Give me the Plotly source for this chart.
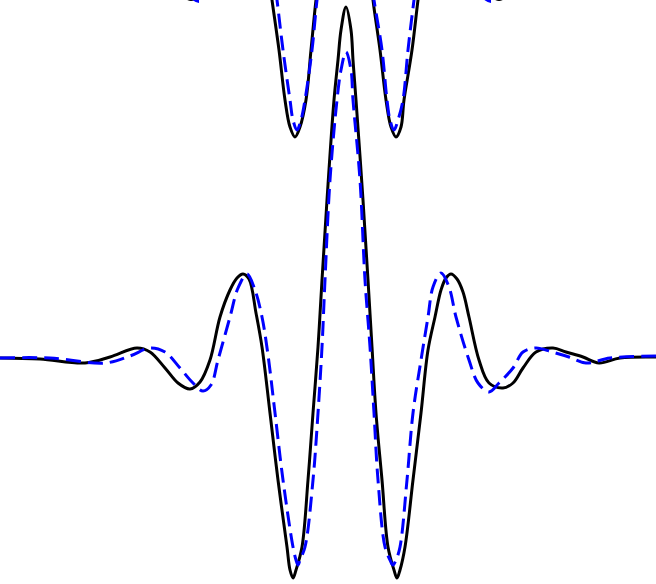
import plotly.graph_objects as go

# values (x in px/100 from centre, y in px/100 above baseline)
x_black = [-3.45, -3.05, -2.60, -2.35, -2.08, -1.95, -1.80, -1.67, -1.55, -1.45,
           -1.35, -1.25, -1.15, -1.08, -1.02, -0.96, -0.89, -0.83, -0.75, -0.67,
           -0.58, -0.55, -0.52, -0.49, -0.43, -0.37, -0.32, -0.27, -0.23, -0.18,
           -0.11, -0.07, -0.04, 0.01, 0.06, 0.08, 0.11, 0.18, 0.23, 0.27,
           0.31, 0.37, 0.43, 0.49, 0.52, 0.55, 0.60, 0.68, 0.76, 0.83,
           0.90, 0.96, 1.01, 1.06, 1.12, 1.18, 1.24, 1.34, 1.44, 1.58,
           1.68, 1.78, 1.91, 2.08, 2.21, 2.38, 2.54, 2.75, 3.11]
y_black = [0.00, -0.01, -0.05, 0.01, 0.10, 0.06, -0.10, -0.25, -0.31, -0.24,
           -0.02, 0.41, 0.68, 0.80, 0.84, 0.79, 0.45, 0.11, -0.55, -1.22,
           -1.89, -2.12, -2.20, -2.12, -1.89, -1.22, -0.55, 0.11, 0.78, 1.58,
           2.58, 2.98, 3.28, 3.51, 3.28, 2.98, 2.58, 1.58, 0.78, 0.11,
           -0.55, -1.22, -1.89, -2.12, -2.20, -2.12, -1.89, -1.22, -0.55, 0.08,
           0.41, 0.68, 0.80, 0.84, 0.79, 0.66, 0.41, -0.02, -0.25, -0.30,
           -0.25, -0.10, 0.06, 0.10, 0.06, 0.01, -0.05, 0.00, 0.01]

x_blue = [-3.45, -2.95, -2.40, -2.15, -1.95, -1.80, -1.65, -1.52, -1.42, -1.34,
          -1.27, -1.15, -1.07, -0.98, -0.90, -0.83, -0.77, -0.70, -0.62, -0.52,
          -0.49, -0.47, -0.45, -0.40, -0.32, -0.27, -0.23, -0.20, -0.15, -0.08,
          -0.04, 0.01, 0.06, 0.08, 0.15, 0.20, 0.25, 0.29, 0.33, 0.40,
          0.45, 0.48, 0.51, 0.55, 0.62, 0.68, 0.76, 0.83, 0.88, 0.96,
          1.04, 1.11, 1.24, 1.33, 1.44, 1.54, 1.68, 1.78, 1.91, 2.07,
          2.24, 2.41, 2.65, 3.11]
y_blue = [0.00, 0.00, -0.05, 0.02, 0.10, 0.06, -0.10, -0.25, -0.33, -0.27,
          -0.02, 0.41, 0.70, 0.84, 0.68, 0.41, 0.03, -0.55, -1.22, -1.89,
          -2.02, -2.07, -2.02, -1.89, -1.22, -0.55, 0.11, 0.78, 1.78, 2.58,
          2.88, 3.06, 2.88, 2.58, 1.78, 0.78, 0.11, -0.55, -1.22, -1.89,
          -2.02, -2.07, -2.02, -1.89, -1.22, -0.55, -0.02, 0.41, 0.71, 0.85,
          0.71, 0.41, -0.02, -0.25, -0.34, -0.25, -0.10, 0.06, 0.10, 0.06,
          0.01, -0.05, 0.00, 0.02]

# lower edge of the panel above, only partly inside the frame
x_black_top = [-1.66, -1.54, -1.42, None, -0.77, -0.73, -0.66, -0.60, -0.55,
               -0.50, -0.45, -0.39, -0.34, -0.29, -0.25, None, 0.25, 0.28, 0.35,
               0.41, 0.46, 0.51, 0.56, 0.59, 0.67, 0.73, 0.77, None, 1.42, 1.54, 1.66]
y_black_top = [3.66, 3.585, 3.66, None, 3.88, 3.58, 3.08, 2.58, 2.31,
               2.21, 2.31, 2.58, 3.08, 3.58, 3.88, None, 3.88, 3.58, 3.08,
               2.58, 2.31, 2.21, 2.31, 2.58, 3.08, 3.58, 3.88, None, 3.66, 3.585, 3.66]

x_blue_top = [-1.58, -1.46, -1.34, None, -0.72, -0.68, -0.62, -0.55, -0.52,
              -0.48, -0.44, -0.40, -0.33, -0.28, -0.24, None, 0.25, 0.29, 0.37,
              0.42, 0.45, 0.49, 0.53, 0.58, 0.63, 0.69, 0.73, None, 1.34, 1.46, 1.58]
y_blue_top = [3.65, 3.565, 3.65, None, 3.88, 3.58, 3.08, 2.58, 2.38,
              2.28, 2.38, 2.58, 3.08, 3.58, 3.88, None, 3.88, 3.58, 3.08,
              2.58, 2.38, 2.28, 2.38, 2.58, 3.08, 3.58, 3.88, None, 3.65, 3.565, 3.65]

fig = go.Figure()
fig.add_trace(go.Scatter(x=x_black_top, y=y_black_top, mode='lines', connectgaps=False,
                         line=dict(color='black', width=3, shape='spline', smoothing=1)))
fig.add_trace(go.Scatter(x=x_blue_top, y=y_blue_top, mode='lines', connectgaps=False,
                         line=dict(color='blue', width=3, dash='15px,7px', shape='spline', smoothing=1)))
fig.add_trace(go.Scatter(x=x_black, y=y_black, mode='lines',
                         line=dict(color='black', width=3, shape='spline', smoothing=1)))
fig.add_trace(go.Scatter(x=x_blue, y=y_blue, mode='lines',
                         line=dict(color='blue', width=3, dash='15px,7px', shape='spline', smoothing=1)))

fig.update_layout(width=656, height=584, margin=dict(l=0, r=0, t=0, b=0),
                  paper_bgcolor='white', plot_bgcolor='white', showlegend=False)
fig.update_xaxes(range=[-3.45, 3.11], visible=False)
fig.update_yaxes(range=[-2.26, 3.58], visible=False)

fig.write_html("out.html", config={'displayModeBar': False},
               post_script="document.body.style.margin='0';")
